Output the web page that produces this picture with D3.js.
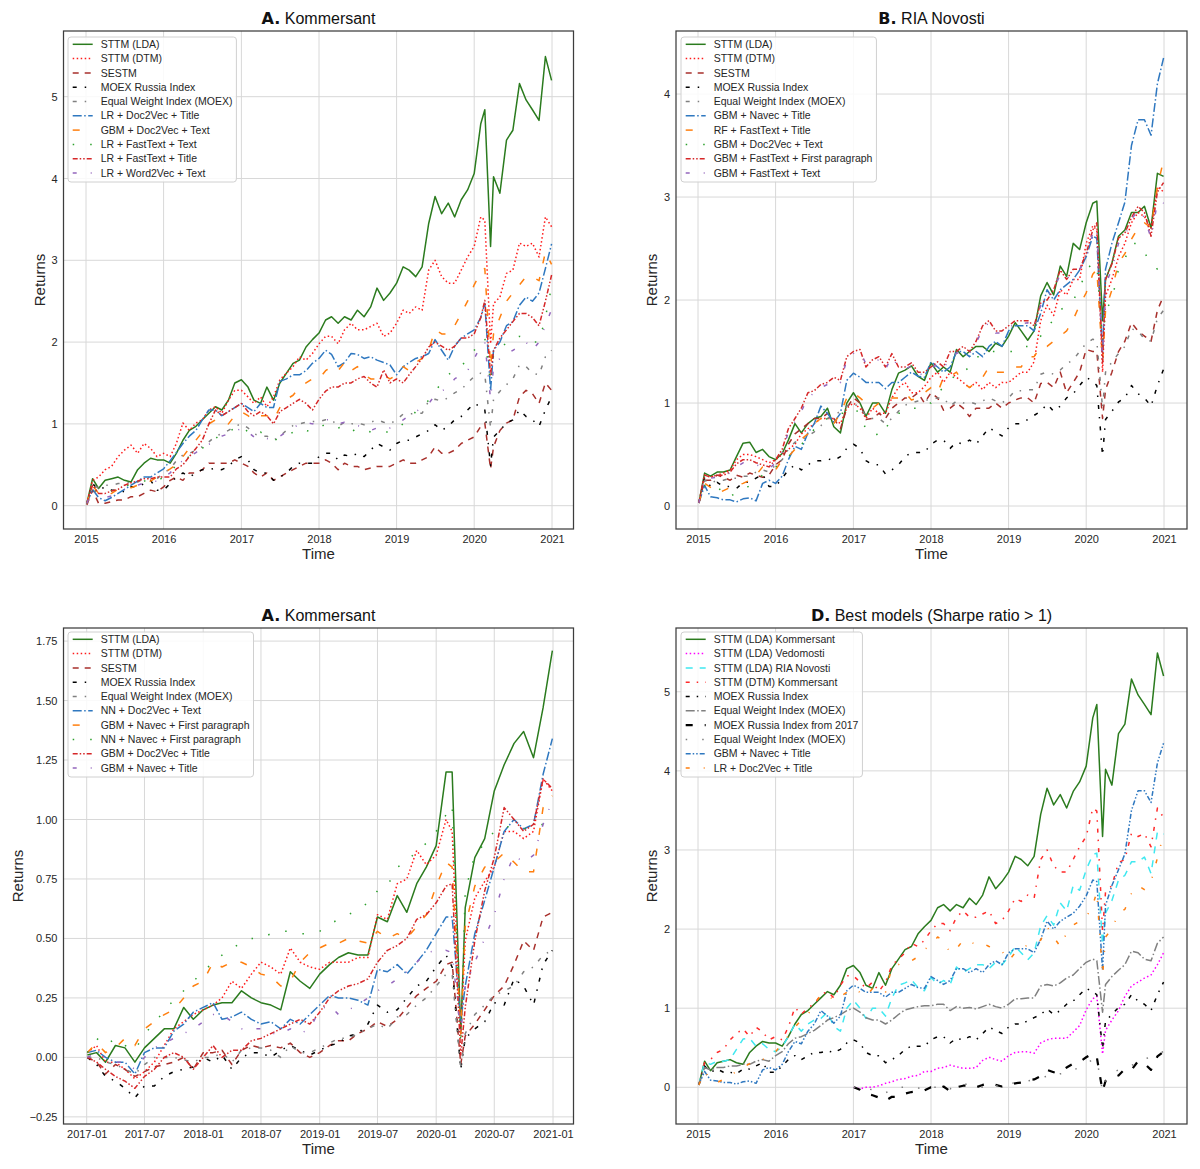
<!DOCTYPE html>
<html><head><meta charset="utf-8">
<script src="https://cdn.jsdelivr.net/npm/d3@7"></script>
<style>
html,body{margin:0;padding:0;background:#fff;}
svg{display:block;font-family:"Liberation Sans",Arial,sans-serif;}
</style></head>
<body>
<svg id="chart" width="1200" height="1169"></svg>
<script>
// ---------------- DATA ----------------
const datesM = ["2015-01-05","2015-02-01","2015-03-01","2015-04-01","2015-05-01","2015-06-01","2015-07-01","2015-08-01","2015-09-01","2015-10-01","2015-11-01","2015-12-01",
"2016-01-01","2016-02-01","2016-03-01","2016-04-01","2016-05-01","2016-06-01","2016-07-01","2016-08-01","2016-09-01","2016-10-01","2016-11-01","2016-12-01",
"2017-01-01","2017-02-01","2017-03-01","2017-04-01","2017-05-01","2017-06-01","2017-07-01","2017-08-01","2017-09-01","2017-10-01","2017-11-01","2017-12-01",
"2018-01-01","2018-02-01","2018-03-01","2018-04-01","2018-05-01","2018-06-01","2018-07-01","2018-08-01","2018-09-01","2018-10-01","2018-11-01","2018-12-01",
"2019-01-01","2019-02-01","2019-03-01","2019-04-01","2019-05-01","2019-06-01","2019-07-01","2019-08-01","2019-09-01","2019-10-01","2019-11-01","2019-12-01",
"2020-01-01","2020-02-01","2020-02-20","2020-03-18","2020-04-01","2020-05-01","2020-06-01","2020-07-01","2020-08-01","2020-09-01","2020-10-01","2020-11-01","2020-12-01","2020-12-30"];

const datesC = ["2017-01-03","2017-02-01","2017-03-01","2017-04-01","2017-05-01","2017-06-01","2017-07-01","2017-08-01","2017-09-01","2017-10-01","2017-11-01","2017-12-01",
"2018-01-01","2018-02-01","2018-03-01","2018-04-01","2018-05-01","2018-06-01","2018-07-01","2018-08-01","2018-09-01","2018-10-01","2018-11-01","2018-12-01",
"2019-01-01","2019-02-01","2019-03-01","2019-04-01","2019-05-01","2019-06-01","2019-07-01","2019-08-01","2019-09-01","2019-10-01","2019-11-01","2019-12-01",
"2020-01-01","2020-02-01","2020-02-20","2020-03-18","2020-04-01","2020-05-01","2020-06-01","2020-07-01","2020-08-01","2020-09-01","2020-10-01","2020-11-01","2020-12-01","2020-12-30"];

const xTicksYears = ["2015","2016","2017","2018","2019","2020","2021"];
const xTicksHalf = ["2017-01","2017-07","2018-01","2018-07","2019-01","2019-07","2020-01","2020-07","2021-01"];
const yTicksA = [0,1,2,3,4,5];
const yTicksB = [0,1,2,3,4];
const yTicksC = [-0.25,0,0.25,0.5,0.75,1,1.25,1.5,1.75];
const yTicksD = [0,1,2,3,4,5];

// shared indices (2015-2020)
const moex = [0.03,0.27,0.19,0.23,0.19,0.19,0.17,0.23,0.23,0.27,0.31,0.19,
 0.19,0.27,0.35,0.40,0.35,0.40,0.44,0.44,0.46,0.44,0.48,0.56,
 0.60,0.56,0.44,0.40,0.40,0.31,0.35,0.40,0.48,0.52,0.52,0.52,
 0.60,0.64,0.64,0.56,0.62,0.60,0.64,0.60,0.68,0.76,0.72,0.68,
 0.76,0.80,0.80,0.84,0.88,0.92,0.99,0.92,0.97,1.05,1.09,1.17,
 1.25,1.21,1.17,0.49,0.84,0.92,1.01,1.05,1.17,1.09,1.05,0.97,1.17,1.33];
const ewi = [0.03,0.25,0.22,0.25,0.25,0.27,0.27,0.29,0.29,0.33,0.35,0.33,
 0.40,0.45,0.55,0.62,0.64,0.68,0.72,0.78,0.85,0.88,0.92,0.97,
 1.00,0.95,0.88,0.85,0.85,0.80,0.85,0.92,0.98,1.00,1.02,1.03,
 1.03,1.05,1.05,0.97,1.02,1.00,1.01,0.99,1.02,1.05,1.02,1.00,
 1.05,1.12,1.12,1.13,1.13,1.28,1.30,1.28,1.32,1.38,1.42,1.50,
 1.58,1.62,1.60,0.95,1.30,1.40,1.48,1.55,1.72,1.70,1.62,1.60,1.82,1.90];

// Panel A: Kommersant
const A_lda = [0.03,0.33,0.21,0.31,0.33,0.35,0.31,0.29,0.44,0.52,0.58,0.56,
 0.56,0.52,0.64,0.80,0.92,0.97,1.05,1.13,1.21,1.17,1.29,1.50,
 1.54,1.45,1.29,1.25,1.45,1.29,1.50,1.62,1.74,1.78,1.94,2.03,
 2.11,2.27,2.31,2.23,2.31,2.27,2.39,2.31,2.43,2.66,2.51,2.60,
 2.72,2.92,2.88,2.80,2.92,3.45,3.78,3.57,3.70,3.53,3.74,3.86,
 4.06,4.67,4.84,3.17,4.02,3.82,4.47,4.59,5.16,4.96,4.84,4.71,5.49,5.20];
const A_dtm = [0.03,0.31,0.35,0.44,0.48,0.60,0.68,0.74,0.64,0.76,0.70,0.60,
 0.64,0.60,0.76,1.01,0.92,1.01,1.05,1.17,1.21,1.13,1.29,1.41,
 1.41,1.33,1.25,1.33,1.21,1.33,1.54,1.62,1.70,1.82,1.78,1.86,
 1.98,2.07,2.07,1.98,2.15,2.23,2.15,2.15,2.19,2.23,2.07,2.11,
 2.23,2.39,2.35,2.43,2.39,2.88,3.00,2.80,2.72,2.72,2.88,3.04,
 3.17,3.53,3.49,1.98,2.47,2.55,2.84,2.88,3.21,3.17,3.21,3.04,3.53,3.41];
const A_sestm = [0.01,0.19,0.03,0.03,0.05,0.07,0.07,0.11,0.11,0.15,0.19,0.17,
 0.23,0.31,0.35,0.31,0.40,0.40,0.44,0.52,0.52,0.52,0.52,0.56,
 0.52,0.48,0.40,0.35,0.40,0.31,0.35,0.40,0.44,0.48,0.52,0.52,
 0.52,0.56,0.52,0.44,0.52,0.48,0.48,0.44,0.46,0.48,0.48,0.48,
 0.52,0.56,0.52,0.52,0.56,0.60,0.72,0.64,0.64,0.68,0.76,0.80,
 0.84,0.97,1.01,0.45,0.72,0.92,1.01,1.05,1.33,1.41,1.37,1.25,1.50,1.41];
const A_lrD2vTitle = [0.03,0.20,0.10,0.06,0.10,0.15,0.20,0.25,0.30,0.35,0.35,0.40,
 0.45,0.55,0.65,0.76,0.85,0.92,1.05,1.17,1.17,1.10,1.15,1.20,
 1.25,1.20,1.15,1.25,1.20,1.20,1.52,1.55,1.60,1.60,1.65,1.74,
 1.80,1.90,1.85,1.70,1.75,1.86,1.85,1.80,1.82,1.78,1.75,1.72,
 1.60,1.70,1.75,1.80,1.82,1.86,2.03,1.90,1.78,1.95,2.05,2.10,
 2.15,2.30,2.47,1.41,1.90,2.00,2.20,2.25,2.45,2.55,2.50,2.60,2.90,3.20];
const A_gbmD2vText = [0.03,0.25,0.15,0.12,0.15,0.20,0.22,0.22,0.25,0.30,0.30,0.35,
 0.40,0.45,0.50,0.60,0.70,0.80,0.90,1.00,1.05,1.00,1.00,1.10,
 1.15,1.10,1.05,1.10,1.10,1.05,1.20,1.30,1.35,1.45,1.50,1.55,
 1.55,1.65,1.70,1.65,1.75,1.65,1.70,1.60,1.55,1.55,1.60,1.55,
 1.60,1.70,1.65,1.75,1.80,1.90,2.15,2.10,2.10,2.20,2.35,2.50,
 2.70,2.85,2.90,1.70,2.10,2.30,2.50,2.60,2.70,2.80,2.80,2.75,3.10,2.95];
const A_lrFtText = [0.03,0.20,0.15,0.15,0.18,0.22,0.25,0.25,0.28,0.30,0.32,0.30,
 0.35,0.40,0.50,0.55,0.60,0.65,0.70,0.78,0.82,0.88,0.90,0.95,
 0.98,0.90,0.85,0.90,0.85,0.80,0.82,0.85,0.90,0.95,0.92,0.90,
 0.95,1.00,1.00,0.95,0.97,0.90,0.95,0.93,0.90,0.88,0.90,0.90,
 0.95,1.00,1.05,1.15,1.20,1.29,1.40,1.50,1.60,1.66,1.70,1.80,
 1.90,1.98,2.05,1.50,1.85,1.90,2.00,2.05,2.07,2.05,2.00,2.00,2.30,2.68];
const A_lrFtTitle = [0.03,0.25,0.15,0.15,0.18,0.20,0.25,0.28,0.30,0.33,0.33,0.35,
 0.35,0.35,0.45,0.50,0.60,0.70,0.80,1.00,1.17,1.10,1.15,1.20,
 1.25,1.15,1.10,1.15,1.10,1.00,1.15,1.20,1.25,1.30,1.25,1.17,
 1.30,1.40,1.45,1.45,1.50,1.50,1.55,1.58,1.50,1.45,1.66,1.50,
 1.55,1.50,1.60,1.70,1.80,1.94,2.00,1.95,1.90,1.95,2.05,2.05,
 2.10,2.30,2.51,1.60,1.90,2.05,2.15,2.25,2.35,2.35,2.30,2.20,2.50,2.82];
const A_lrW2vText = [0.03,0.20,0.12,0.10,0.12,0.15,0.20,0.22,0.25,0.28,0.30,0.30,
 0.35,0.40,0.50,0.55,0.60,0.65,0.70,0.75,0.80,0.85,0.88,0.90,
 0.95,0.90,0.84,0.80,0.82,0.80,0.85,0.90,0.95,1.00,1.02,1.00,
 1.03,1.05,1.05,1.00,1.02,1.00,0.98,0.95,0.92,0.95,0.97,0.95,
 1.00,1.05,1.10,1.15,1.20,1.25,1.35,1.40,1.45,1.55,1.60,1.65,
 1.80,1.95,2.00,1.30,1.70,1.80,1.85,1.90,1.95,2.00,1.90,2.00,2.20,2.40];

// Panel B: RIA Novosti
const B_lda = [0.03,0.32,0.29,0.33,0.33,0.35,0.48,0.61,0.62,0.52,0.55,0.48,
 0.45,0.51,0.64,0.80,0.71,0.80,0.85,0.87,0.95,0.77,0.71,1.00,
 1.10,1.00,0.87,1.00,1.00,0.90,1.13,1.29,1.32,1.36,1.26,1.22,
 1.39,1.30,1.35,1.30,1.52,1.45,1.50,1.55,1.55,1.50,1.58,1.55,
 1.65,1.78,1.70,1.61,1.70,2.04,2.17,2.05,2.33,2.23,2.55,2.49,
 2.75,2.94,2.96,1.80,2.20,2.36,2.62,2.68,2.85,2.85,2.91,2.70,3.23,3.20];
const B_dtm = [0.03,0.30,0.28,0.30,0.32,0.35,0.45,0.50,0.50,0.48,0.45,0.42,
 0.45,0.50,0.55,0.60,0.70,0.75,0.80,0.85,0.85,0.85,0.80,0.95,
 1.00,0.95,0.85,0.95,0.90,0.90,1.05,1.15,1.20,1.10,1.10,1.16,
 1.25,1.30,1.20,1.30,1.25,1.20,1.15,1.20,1.13,1.20,1.15,1.20,
 1.20,1.25,1.30,1.30,1.40,1.80,1.95,1.85,2.10,2.05,2.20,2.20,
 2.55,2.72,2.68,1.30,2.04,2.20,2.42,2.55,2.75,2.85,2.81,2.70,3.10,3.05];
const B_sestm = [0.03,0.25,0.25,0.30,0.28,0.25,0.30,0.28,0.32,0.30,0.28,0.30,
 0.40,0.45,0.60,0.70,0.75,0.80,0.85,0.85,0.90,0.85,0.75,0.95,
 1.05,1.00,0.84,0.85,0.90,0.85,0.95,1.00,1.05,1.05,1.10,1.00,
 1.10,1.05,0.93,0.95,1.00,0.95,0.87,0.95,0.95,0.95,1.00,0.95,
 1.00,1.03,1.05,1.05,1.00,1.19,1.20,1.15,1.30,1.10,1.20,1.30,
 1.52,1.50,1.50,0.85,1.13,1.30,1.50,1.60,1.78,1.70,1.65,1.60,1.90,2.04];
const B_gbmNavecTitle = [0.03,0.20,0.09,0.08,0.06,0.06,0.04,0.07,0.08,0.05,0.22,0.25,
 0.22,0.29,0.45,0.58,0.55,0.71,0.80,0.97,0.90,0.81,0.90,1.22,
 1.29,1.25,1.20,1.20,1.20,1.14,1.20,1.20,1.25,1.30,1.26,1.25,
 1.40,1.35,1.30,1.35,1.50,1.50,1.45,1.50,1.45,1.55,1.60,1.55,
 1.70,1.75,1.75,1.75,1.70,1.87,2.10,2.00,2.10,2.15,2.20,2.29,
 2.42,2.62,2.60,1.48,2.30,2.55,2.75,2.95,3.50,3.75,3.75,3.60,4.10,4.35];
const B_rfFtTitle = [0.03,0.22,0.18,0.12,0.15,0.18,0.20,0.22,0.25,0.30,0.38,0.38,
 0.35,0.45,0.48,0.55,0.65,0.70,0.80,0.85,0.85,0.80,0.90,1.05,
 1.10,1.05,1.00,0.95,1.00,1.00,1.05,1.05,1.10,1.03,1.05,1.10,
 1.15,1.10,1.25,1.26,1.30,1.20,1.15,1.20,1.25,1.35,1.30,1.30,
 1.30,1.35,1.35,1.45,1.45,1.55,1.55,1.60,1.65,1.70,1.81,1.95,
 2.07,2.25,2.30,1.40,1.90,2.10,2.36,2.45,2.59,2.70,2.75,2.70,3.10,3.36];
const B_gbmD2vText = [0.03,0.20,0.15,0.15,0.18,0.10,0.12,0.15,0.20,0.25,0.30,0.35,
 0.38,0.42,0.48,0.55,0.60,0.65,0.75,0.80,0.85,0.85,0.90,0.90,
 0.95,0.90,0.74,0.75,0.67,0.75,0.85,0.90,0.90,0.95,0.95,1.00,
 1.00,1.10,1.15,1.20,1.30,1.30,1.35,1.45,1.45,1.50,1.50,1.50,
 1.50,1.50,1.55,1.55,1.60,1.65,1.75,1.80,1.90,1.95,2.00,2.10,
 2.30,2.35,2.35,1.60,1.90,2.00,2.30,2.40,2.55,2.55,2.46,2.36,2.30,2.30];
const B_gbmFtFirst = [0.03,0.30,0.28,0.30,0.30,0.33,0.41,0.45,0.45,0.42,0.40,0.38,
 0.45,0.55,0.75,0.85,0.95,1.10,1.12,1.18,1.20,1.25,1.22,1.45,
 1.50,1.52,1.35,1.42,1.45,1.35,1.48,1.35,1.35,1.39,1.30,1.30,
 1.35,1.40,1.35,1.50,1.50,1.55,1.50,1.60,1.75,1.80,1.70,1.70,
 1.75,1.80,1.80,1.80,1.75,1.97,2.00,2.10,2.29,2.20,2.30,2.30,
 2.45,2.68,2.75,1.39,2.20,2.35,2.60,2.65,2.80,2.91,2.85,2.62,3.05,3.14];
const B_gbmFtText = [0.03,0.28,0.27,0.28,0.30,0.32,0.38,0.42,0.42,0.40,0.38,0.36,
 0.42,0.52,0.72,0.82,0.92,1.05,1.10,1.15,1.18,1.22,1.20,1.42,
 1.48,1.50,1.38,1.40,1.42,1.33,1.45,1.35,1.33,1.36,1.28,1.28,
 1.33,1.38,1.33,1.45,1.48,1.52,1.48,1.58,1.72,1.78,1.68,1.68,
 1.72,1.78,1.77,1.78,1.72,1.95,2.05,2.10,2.25,2.20,2.28,2.30,
 2.40,2.65,2.70,1.40,2.15,2.30,2.55,2.62,2.78,2.88,2.80,2.60,2.95,2.94];

// Panel C: Kommersant from 2017
const C_lda = [0.01,0.02,-0.02,0.05,0.04,-0.02,0.04,0.08,0.12,0.12,0.21,0.16,
 0.20,0.22,0.23,0.23,0.28,0.25,0.23,0.22,0.20,0.36,0.32,0.29,
 0.35,0.39,0.42,0.44,0.43,0.43,0.59,0.57,0.68,0.61,0.73,0.80,
 0.89,1.20,1.20,0.10,0.63,0.84,0.92,1.12,1.23,1.32,1.37,1.26,1.47,1.71];
const C_dtm = [0.02,0.05,-0.02,-0.02,-0.05,-0.09,-0.06,-0.02,0.05,0.12,0.15,0.18,
 0.20,0.22,0.25,0.32,0.29,0.35,0.40,0.38,0.35,0.46,0.40,0.38,
 0.37,0.40,0.40,0.40,0.42,0.42,0.60,0.58,0.73,0.75,0.87,0.81,
 0.85,1.00,0.95,0.10,0.49,0.67,0.74,0.80,0.95,0.95,0.92,0.95,1.17,1.12];
const C_sestm = [0.00,-0.02,-0.07,-0.03,-0.05,-0.08,-0.06,-0.04,-0.03,-0.02,0.00,-0.05,
 0.02,0.02,0.03,-0.03,0.03,0.05,0.04,0.05,0.04,0.06,0.02,0.00,
 0.02,0.05,0.07,0.07,0.10,0.12,0.15,0.13,0.16,0.21,0.26,0.29,
 0.32,0.39,0.40,-0.03,0.09,0.14,0.20,0.26,0.30,0.39,0.49,0.45,0.59,0.61];
const C_moex = [0.00,-0.03,-0.08,-0.10,-0.13,-0.17,-0.12,-0.12,-0.08,-0.06,-0.05,-0.04,
 0.00,-0.02,0.01,-0.05,0.00,0.02,0.02,0.00,0.03,0.05,0.03,0.01,
 0.03,0.05,0.06,0.09,0.10,0.14,0.22,0.19,0.20,0.25,0.30,0.32,
 0.38,0.43,0.38,-0.05,0.08,0.12,0.15,0.23,0.22,0.33,0.30,0.22,0.39,0.45];
const C_ewi = [0.00,0.00,-0.02,-0.03,-0.05,-0.07,-0.03,0.00,0.00,0.00,-0.01,-0.02,
 0.00,0.00,0.02,-0.02,0.03,0.04,0.04,0.03,0.00,0.05,0.02,0.02,
 0.04,0.06,0.08,0.08,0.10,0.12,0.14,0.12,0.17,0.18,0.22,0.25,
 0.30,0.35,0.35,-0.05,0.10,0.18,0.22,0.26,0.28,0.30,0.36,0.38,0.43,0.45];
const C_nnD2vText = [0.02,0.03,0.00,-0.02,-0.02,-0.07,0.02,0.04,0.04,0.11,0.14,0.19,
 0.21,0.23,0.16,0.17,0.19,0.16,0.14,0.15,0.12,0.16,0.14,0.18,
 0.22,0.26,0.25,0.25,0.24,0.22,0.37,0.36,0.39,0.35,0.40,0.45,
 0.52,0.59,0.59,0.15,0.30,0.52,0.66,0.80,0.95,1.00,0.96,0.98,1.19,1.34];
const C_gbmNavecFirst = [0.02,0.06,0.02,0.04,0.08,0.05,0.12,0.15,0.18,0.20,0.25,0.30,
 0.32,0.40,0.38,0.40,0.40,0.38,0.35,0.34,0.30,0.32,0.40,0.44,
 0.46,0.48,0.48,0.50,0.49,0.48,0.53,0.50,0.52,0.50,0.55,0.60,
 0.72,0.82,0.80,0.10,0.55,0.72,0.80,0.82,0.86,0.82,0.78,0.78,1.05,1.10];
const C_nnNavecFirst = [0.02,0.08,0.05,0.08,0.05,0.03,0.10,0.14,0.20,0.24,0.28,0.32,
 0.36,0.40,0.43,0.46,0.48,0.50,0.50,0.52,0.53,0.53,0.52,0.52,
 0.53,0.56,0.58,0.60,0.62,0.65,0.70,0.72,0.80,0.82,0.87,0.90,
 0.95,1.02,1.06,0.05,0.70,0.85,0.90,0.95,0.97,0.97,0.96,0.97,0.98,1.00];
const C_gbmD2vTitle = [0.00,-0.02,-0.05,-0.08,-0.10,-0.13,-0.08,-0.05,0.00,0.02,0.00,-0.05,
 0.00,0.05,0.00,0.03,0.03,0.07,0.08,0.10,0.12,0.14,0.16,0.14,
 0.19,0.25,0.28,0.30,0.31,0.33,0.40,0.45,0.47,0.50,0.58,0.60,
 0.65,0.72,0.73,0.01,0.21,0.49,0.70,0.84,1.05,1.00,0.95,0.98,1.17,1.13];
const C_gbmNavecTitle = [0.00,0.02,0.00,-0.02,-0.02,-0.05,0.00,0.04,0.06,0.08,0.10,0.12,
 0.15,0.18,0.18,0.15,0.12,0.12,0.12,0.10,0.10,0.12,0.10,0.12,
 0.20,0.22,0.18,0.20,0.22,0.25,0.28,0.30,0.33,0.36,0.40,0.44,
 0.45,0.45,0.44,0.10,0.30,0.40,0.50,0.60,0.75,0.85,0.82,0.85,0.98,1.08];

// Panel D extra: Vedomosti (from 2017)
const D_vedomosti = [0.00,-0.02,0.00,0.00,0.02,0.05,0.07,0.10,0.11,0.14,0.15,0.20,
 0.20,0.24,0.25,0.28,0.26,0.24,0.24,0.25,0.34,0.38,0.35,0.33,
 0.40,0.44,0.45,0.45,0.43,0.56,0.60,0.62,0.62,0.62,0.70,0.78,
 0.98,1.12,1.15,0.42,0.72,0.85,0.97,1.15,1.28,1.33,1.38,1.42,1.55,1.70];

// ---------------- STYLES ----------------
const DASH = {
  solid: null,
  dotted: "1.5,2.5",
  dashed: "6,6",
  dashDot: "4,8,1.5,8",
  dashDotTight: "9,2.5,1.5,2.5",
  dashGap: "7,14",
  dotLoose: "1.5,16",
  dashDotDot: "5,2,1.5,2,1.5,2",
  dashGapDot: "4,14,1,14"
};
const C = {green:"#2b7b1e", red:"#ff1a1a", brown:"#a8302c", black:"#000000", gray:"#808080",
  blue:"#2f78c0", orange:"#ff7f0e", lgreen:"#2ca02c", dred:"#d62728", purple:"#9467bd",
  magenta:"#ff00ff", cyan:"#3fe8f0"};

const parse = d3.timeParse("%Y-%m-%d");
const parseY = d3.timeParse("%Y");
const parseYM = d3.timeParse("%Y-%m");

const panels = [
 {bold:"A.", title:" Kommersant", frame:{l:63.5,r:573.5,t:31,b:529},
  xDomain:["2015-01-01","2021-01-01"], xRange:[86,552], yDomain:[-0.285,5.803],
  xTicks:xTicksYears.map(parseY), xFmt:d3.timeFormat("%Y"), yTicks:yTicksA, yFmt:d3.format("d"), ylabX:40,
  legend:{x:68,y:37},
  series:[
   {name:"STTM (LDA)", dates:datesM, v:A_lda, c:C.green, d:DASH.solid},
   {name:"STTM (DTM)", dates:datesM, v:A_dtm, c:C.red, d:DASH.dotted},
   {name:"SESTM", dates:datesM, v:A_sestm, c:C.brown, d:DASH.dashed},
   {name:"MOEX Russia Index", dates:datesM, v:moex, c:C.black, d:DASH.dashDot},
   {name:"Equal Weight Index (MOEX)", dates:datesM, v:ewi, c:C.gray, d:DASH.dashDot},
   {name:"LR + Doc2Vec + Title", dates:datesM, v:A_lrD2vTitle, c:C.blue, d:DASH.dashDotTight},
   {name:"GBM + Doc2Vec + Text", dates:datesM, v:A_gbmD2vText, c:C.orange, d:DASH.dashGap},
   {name:"LR + FastText + Text", dates:datesM, v:A_lrFtText, c:C.lgreen, d:DASH.dotLoose},
   {name:"LR + FastText + Title", dates:datesM, v:A_lrFtTitle, c:C.dred, d:DASH.dashDotDot},
   {name:"LR + Word2Vec + Text", dates:datesM, v:A_lrW2vText, c:C.purple, d:DASH.dashGapDot}
  ]},
 {bold:"B.", title:" RIA Novosti", frame:{l:676,r:1187,t:31,b:529},
  xDomain:["2015-01-01","2021-01-01"], xRange:[698,1164], yDomain:[-0.223,4.612],
  xTicks:xTicksYears.map(parseY), xFmt:d3.timeFormat("%Y"), yTicks:yTicksB, yFmt:d3.format("d"), ylabX:652,
  legend:{x:681,y:37},
  series:[
   {name:"STTM (LDA)", dates:datesM, v:B_lda, c:C.green, d:DASH.solid},
   {name:"STTM (DTM)", dates:datesM, v:B_dtm, c:C.red, d:DASH.dotted},
   {name:"SESTM", dates:datesM, v:B_sestm, c:C.brown, d:DASH.dashed},
   {name:"MOEX Russia Index", dates:datesM, v:moex, c:C.black, d:DASH.dashDot},
   {name:"Equal Weight Index (MOEX)", dates:datesM, v:ewi, c:C.gray, d:DASH.dashDot},
   {name:"GBM + Navec + Title", dates:datesM, v:B_gbmNavecTitle, c:C.blue, d:DASH.dashDotTight},
   {name:"RF + FastText + Title", dates:datesM, v:B_rfFtTitle, c:C.orange, d:DASH.dashGap},
   {name:"GBM + Doc2Vec + Text", dates:datesM, v:B_gbmD2vText, c:C.lgreen, d:DASH.dotLoose},
   {name:"GBM + FastText + First paragraph", dates:datesM, v:B_gbmFtFirst, c:C.dred, d:DASH.dashDotDot},
   {name:"GBM + FastText + Text", dates:datesM, v:B_gbmFtText, c:C.purple, d:DASH.dashGapDot}
  ]},
 {bold:"A.", title:" Kommersant", frame:{l:63.5,r:573.5,t:628,b:1124},
  xDomain:["2017-01-01","2021-01-01"], xRange:[86.7,553], yDomain:[-0.280,1.805],
  xTicks:xTicksHalf.map(parseYM), xFmt:d3.timeFormat("%Y-%m"), yTicks:yTicksC, yFmt:d3.format(".2f"), ylabX:18,
  legend:{x:68,y:632},
  series:[
   {name:"STTM (LDA)", dates:datesC, v:C_lda, c:C.green, d:DASH.solid},
   {name:"STTM (DTM)", dates:datesC, v:C_dtm, c:C.red, d:DASH.dotted},
   {name:"SESTM", dates:datesC, v:C_sestm, c:C.brown, d:DASH.dashed},
   {name:"MOEX Russia Index", dates:datesC, v:C_moex, c:C.black, d:DASH.dashDot},
   {name:"Equal Weight Index (MOEX)", dates:datesC, v:C_ewi, c:C.gray, d:DASH.dashDot},
   {name:"NN + Doc2Vec + Text", dates:datesC, v:C_nnD2vText, c:C.blue, d:DASH.dashDotTight},
   {name:"GBM + Navec + First paragraph", dates:datesC, v:C_gbmNavecFirst, c:C.orange, d:DASH.dashGap},
   {name:"NN + Navec + First paragraph", dates:datesC, v:C_nnNavecFirst, c:C.lgreen, d:DASH.dotLoose},
   {name:"GBM + Doc2Vec + Title", dates:datesC, v:C_gbmD2vTitle, c:C.dred, d:DASH.dashDotDot},
   {name:"GBM + Navec + Title", dates:datesC, v:C_gbmNavecTitle, c:C.purple, d:DASH.dashGapDot}
  ]},
 {bold:"D.", title:" Best models (Sharpe ratio > 1)", frame:{l:676,r:1187,t:628,b:1124},
  xDomain:["2015-01-01","2021-01-01"], xRange:[698,1164], yDomain:[-0.464,5.806],
  xTicks:xTicksYears.map(parseY), xFmt:d3.timeFormat("%Y"), yTicks:yTicksD, yFmt:d3.format("d"), ylabX:652,
  legend:{x:681,y:632},
  series:[
   {name:"STTM (LDA) Kommersant", dates:datesM, v:A_lda, c:C.green, d:DASH.solid},
   {name:"STTM (LDA) Vedomosti", dates:datesC, v:D_vedomosti, c:C.magenta, d:DASH.dotted},
   {name:"STTM (LDA) RIA Novosti", dates:datesM, v:B_lda, c:C.cyan, d:"7,7"},
   {name:"STTM (DTM) Kommersant", dates:datesM, v:A_dtm, c:"#ff2a2a", d:"4,7,1.5,7"},
   {name:"MOEX Russia Index", dates:datesM, v:moex, c:C.black, d:"4,7,1.5,7"},
   {name:"Equal Weight Index (MOEX)", dates:datesM, v:ewi, c:C.gray, d:DASH.dashDotTight},
   {name:"MOEX Russia Index from 2017", dates:datesC, v:C_moex, c:C.black, d:"7,12", w:2.2},
   {name:"Equal Weight Index (MOEX)", dates:datesC, v:C_ewi, c:C.gray, d:"1.5,15"},
   {name:"GBM + Navec + Title", dates:datesM, v:B_gbmNavecTitle, c:C.blue, d:DASH.dashDotDot},
   {name:"LR + Doc2Vec + Title", dates:datesM, v:A_lrD2vTitle, c:C.orange, d:DASH.dashGapDot}
  ]}
];

// ---------------- DRAW ----------------
const svg = d3.select("#chart");
const TXT = "#262626";

panels.forEach((p, pi) => {
  const f = p.frame;
  const g = svg.append("g");
  const x = d3.scaleTime().domain(p.xDomain.map(parse)).range(p.xRange);
  const y = d3.scaleLinear().domain(p.yDomain).range([f.b, f.t]);

  // grid
  g.append("g").selectAll("line").data(p.xTicks).join("line")
    .attr("x1", d => x(d)).attr("x2", d => x(d)).attr("y1", f.t).attr("y2", f.b)
    .attr("stroke", "#d8d8d8").attr("stroke-width", 1);
  g.append("g").selectAll("line").data(p.yTicks).join("line")
    .attr("x1", f.l).attr("x2", f.r).attr("y1", d => y(d)).attr("y2", d => y(d))
    .attr("stroke", "#d8d8d8").attr("stroke-width", 1);

  // clip
  const cid = "clip" + pi;
  svg.append("clipPath").attr("id", cid).append("rect")
    .attr("x", f.l).attr("y", f.t).attr("width", f.r - f.l).attr("height", f.b - f.t);

  const lines = g.append("g").attr("clip-path", `url(#${cid})`);
  p.series.forEach(s => {
    const n = Math.min(s.dates.length, s.v.length);
    const pts = d3.range(n).map(i => ({t: parse(s.dates[i]), v: s.v[i]}));
    const line = d3.line().defined(d => d.v != null).x(d => x(d.t)).y(d => y(d.v));
    lines.append("path").datum(pts).attr("d", line)
      .attr("fill", "none").attr("stroke", s.c).attr("stroke-width", s.w || 1.5)
      .attr("stroke-dasharray", s.d).attr("stroke-linejoin", "round");
  });

  // frame
  g.append("rect").attr("x", f.l).attr("y", f.t).attr("width", f.r - f.l).attr("height", f.b - f.t)
    .attr("fill", "none").attr("stroke", "#3d3d3d").attr("stroke-width", 1.25);

  // axes
  const ax = g.append("g").attr("transform", `translate(0,${f.b})`)
    .call(d3.axisBottom(x).tickValues(p.xTicks).tickFormat(p.xFmt).tickSize(0).tickPadding(6));
  ax.select(".domain").remove();
  ax.selectAll("text").attr("font-size", 11).attr("fill", TXT).attr("font-family", '"Liberation Sans",Arial,sans-serif');
  const ay = g.append("g").attr("transform", `translate(${f.l},0)`)
    .call(d3.axisLeft(y).tickValues(p.yTicks).tickFormat(p.yFmt).tickSize(0).tickPadding(6));
  ay.select(".domain").remove();
  ay.selectAll("text").attr("font-size", 11).attr("fill", TXT).attr("font-family", '"Liberation Sans",Arial,sans-serif');

  // labels
  const cx = (f.l + f.r) / 2, cy = (f.t + f.b) / 2;
  g.append("text").attr("x", cx).attr("y", f.b + 30).attr("text-anchor", "middle")
    .attr("font-size", 15).attr("fill", TXT).text("Time");
  g.append("text").attr("transform", `translate(${p.ylabX},${cy}) rotate(-90)`).attr("text-anchor", "middle")
    .attr("dy", "0.35em").attr("font-size", 15).attr("fill", TXT).text("Returns");
  const tt = g.append("text").attr("x", cx).attr("y", f.t - 7).attr("text-anchor", "middle")
    .attr("font-size", 16).attr("fill", "#111");
  tt.append("tspan").attr("font-family", '"DejaVu Sans",sans-serif').attr("font-weight", "bold").text(p.bold);
  tt.append("tspan").text(p.title);

  // legend
  const L = p.legend, rowH = 14.3;
  const lg = g.append("g");
  const box = lg.append("rect").attr("x", L.x).attr("y", L.y).attr("rx", 3).attr("ry", 3)
    .attr("fill", "#ffffff").attr("fill-opacity", 0.85).attr("stroke", "#d0d0d0").attr("stroke-width", 1);
  let maxR = 0;
  p.series.forEach((s, i) => {
    const ry = L.y + 7.3 + i * rowH;
    lg.append("line").attr("x1", L.x + 4.7).attr("x2", L.x + 24.7).attr("y1", ry).attr("y2", ry)
      .attr("stroke", s.c).attr("stroke-width", s.w || 1.5).attr("stroke-dasharray", s.d);
    const t = lg.append("text").attr("x", L.x + 32.7).attr("y", ry).attr("dy", "0.35em")
      .attr("font-size", 10.5).attr("fill", TXT).text(s.name);
    maxR = Math.max(maxR, L.x + 32.7 + t.node().getComputedTextLength());
  });
  box.attr("width", maxR + 4 - L.x).attr("height", p.series.length * rowH + 2);
});
</script>
</body></html>
